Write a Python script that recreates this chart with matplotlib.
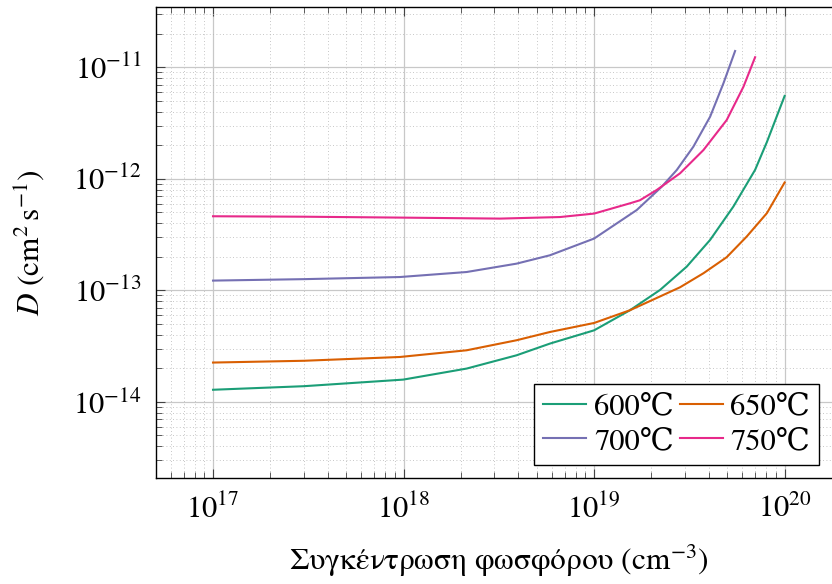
import numpy as np
import matplotlib
matplotlib.use("Agg")
import matplotlib.pyplot as plt
from matplotlib.ticker import LogLocator, NullFormatter

plt.rcParams['font.family'] = ['STIXGeneral', 'DejaVu Serif']
plt.rcParams['mathtext.fontset'] = 'stix'

# values, as log10 of concentration (cm^-3) and of D (cm^2/s)
logN_600 = [17.0, 17.477, 17.998, 18.331, 18.593, 18.768, 19.0, 19.188, 19.346, 19.486,
            19.609, 19.731, 19.845, 19.907, 20.0]
logD_600 = [-13.892, -13.86, -13.801, -13.702, -13.583, -13.478, -13.359, -13.179, -12.997,
            -12.788, -12.548, -12.249, -11.92, -11.67, -11.257]

logN_650 = [17.0, 17.477, 17.981, 18.331, 18.593, 18.768, 19.0, 19.188, 19.451, 19.574,
            19.696, 19.801, 19.907, 20.0]
logD_650 = [-13.648, -13.632, -13.598, -13.538, -13.448, -13.374, -13.293, -13.179, -12.973,
            -12.847, -12.703, -12.518, -12.308, -12.033]

logN_700 = [17.0, 17.477, 17.981, 18.331, 18.593, 18.768, 19.0, 19.224, 19.355,
            19.434, 19.521, 19.609, 19.679, 19.740]
logD_700 = [-12.913, -12.90, -12.881, -12.836, -12.761, -12.686, -12.536, -12.280,
            -12.071, -11.921, -11.712, -11.443, -11.143, -10.854]

logN_750 = [17.0, 17.477, 17.981, 18.506, 18.821, 19.0, 19.188, 19.24, 19.329, 19.451,
            19.574, 19.696, 19.784, 19.845]
logD_750 = [-12.336, -12.34, -12.348, -12.357, -12.343, -12.312, -12.220, -12.193, -12.100,
            -11.951, -11.742, -11.473, -11.174, -10.910]

labels = ['600\u2103', '650\u2103', '700\u2103', '750\u2103']
colors = ['#1b9e77', '#d95f02', '#7570b3', '#e7298a']

fig = plt.figure(figsize=(8.32, 5.84), dpi=100)
ax = fig.add_axes([0.1871, 0.181, 1.012 - 0.1871, 0.9875 - 0.181])

series = [(logN_600, logD_600), (logN_650, logD_650), (logN_700, logD_700), (logN_750, logD_750)]
lines = []
for (ln, ld), lab, c in zip(series, labels, colors):
    l, = ax.plot(10 ** np.array(ln), 10 ** np.array(ld), color=c, lw=1.5, label=lab,
                 zorder=3, solid_joinstyle='round')
    lines.append(l)

ax.set_xscale('log')
ax.set_yscale('log')
ax.set_xlim(5e16, 2e20)
ax.set_ylim(10 ** -14.686, 10 ** -10.462)

ax.xaxis.set_minor_locator(LogLocator(base=10, subs=np.arange(2, 10)))
ax.yaxis.set_minor_locator(LogLocator(base=10, subs=np.arange(2, 10)))
ax.xaxis.set_minor_formatter(NullFormatter())
ax.yaxis.set_minor_formatter(NullFormatter())
ax.set_xticks([1e17, 1e18, 1e19, 1e20])
ax.set_yticks([1e-14, 1e-13, 1e-12, 1e-11])

ax.grid(True, which='major', color='#c8c8c8', lw=0.9, zorder=0)
ax.grid(True, which='minor', color='#b4b4b4', lw=0.6, ls=(0, (1, 3)), zorder=0)
ax.set_axisbelow(True)

ax.tick_params(which='both', direction='in', top=True, right=True, labelsize=22, color='#444444')
ax.tick_params(which='major', length=6.5, width=0.8, pad=12)
ax.tick_params(which='minor', length=4.3, width=0.6)
ax.tick_params(axis='y', which='major', pad=10)
for s in ax.spines.values():
    s.set_linewidth(1.0)

ax.set_xlabel('Συγκέντρωση φωσφόρου (cm$^{-3}$)', fontsize=22.5, labelpad=13)
ax.set_ylabel(r'$D\ (\mathrm{cm}^{2}\,\mathrm{s}^{-1})$', fontsize=22.5, labelpad=19)

# row-wise order: 600, 650 / 700, 750
order = [0, 2, 1, 3]
leg = ax.legend([lines[i] for i in order], [labels[i] for i in order], ncol=2,
                loc='lower right', bbox_to_anchor=(0.967, 0.028), borderaxespad=0,
                fontsize=22, frameon=True, fancybox=False, edgecolor='black',
                handlelength=1.4, handletextpad=0.25, columnspacing=0.2,
                labelspacing=0.2, borderpad=0.3)
leg.get_frame().set_linewidth(1.0)
leg.get_frame().set_alpha(1)

fig.savefig('out.png', dpi=100)
